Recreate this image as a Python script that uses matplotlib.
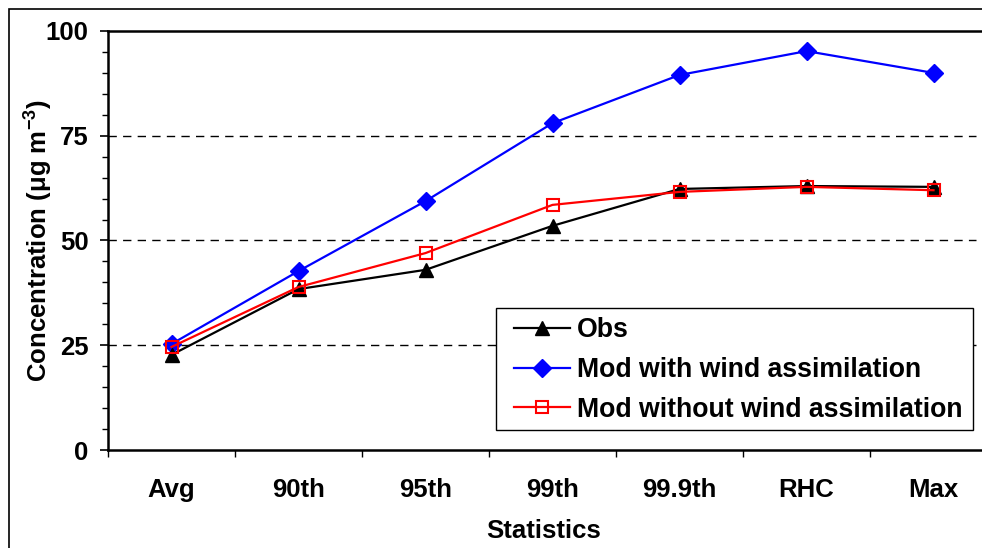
import matplotlib
matplotlib.use("Agg")
import matplotlib.pyplot as plt
from matplotlib.patches import Rectangle
import numpy as np

categories = ["Avg", "90th", "95th", "99th", "99.9th", "RHC", "Max"]
obs = [22.7, 38.4, 43.0, 53.5, 62.3, 63.0, 62.8]
mod_wind = [25.3, 42.7, 59.4, 78.0, 89.5, 95.2, 90.0]
mod_no_wind = [24.6, 38.9, 47.0, 58.5, 61.6, 62.8, 62.0]
y_ticks = [0, 25, 50, 75, 100]

plt.rcParams['font.family'] = ['Liberation Sans', 'DejaVu Sans']
plt.rcParams['font.weight'] = 'bold'
plt.rcParams['mathtext.fontset'] = 'custom'
plt.rcParams['mathtext.rm'] = 'Liberation Sans:bold'
plt.rcParams['mathtext.bf'] = 'Liberation Sans:bold'
plt.rcParams['mathtext.default'] = 'bf'

W, H = 982, 548
fig = plt.figure(figsize=(W / 100, H / 100), dpi=100)

# outer frame of the original picture (cropped on right/bottom)
fig.patches.append(Rectangle((9 / W, -0.1), 1.2, 1 - 9 / H + 0.1, transform=fig.transFigure,
                             fill=False, edgecolor='black', lw=1.2))

ax = fig.add_axes([108 / W, 1 - 450 / H, 889 / W, 419 / H])
x = np.arange(len(categories))

ax.plot(x, mod_wind, color='blue', lw=1.6, marker='D', ms=9, mec='blue', mfc='blue',
        label='Mod with wind assimilation', zorder=3)
ax.plot(x, obs, color='black', lw=1.6, marker='^', ms=10.5, mec='black', mfc='black',
        label='Obs', zorder=4)
ax.plot(x, mod_no_wind, color='red', lw=1.6, marker='s', ms=9, mec='red', mfc='none',
        mew=1.5, label='Mod without wind assimilation', zorder=5)

ax.set_xlim(-0.5, len(categories) - 0.5)
ax.set_ylim(0, 100)
ax.set_yticks(y_ticks)
ax.set_yticks(np.arange(0, 101, 5), minor=True)
ax.set_xticks(x)
ax.set_xticklabels(categories)
ax.set_xticks(np.arange(-0.5, len(categories), 1.0), minor=True)

for yv in y_ticks[1:-1]:
    ax.axhline(yv, xmax=0.976, color='black', lw=1.0, ls=(0, (6, 4.5)), zorder=1)

ax.tick_params(axis='y', which='major', direction='out', length=6, width=1.2,
               labelsize=18.5, pad=8)
ax.tick_params(axis='y', which='minor', direction='out', length=4.5, width=1.0)
ax.tick_params(axis='x', which='major', length=0, labelsize=18.5, pad=20)
ax.tick_params(axis='x', which='minor', direction='out', length=5, width=1.0)

for side in ['left', 'bottom', 'top']:
    ax.spines[side].set_linewidth(1.8)
ax.spines['right'].set_visible(False)

ax.set_ylabel('Concentration (μg m$^{-3}$)', fontsize=18.5, fontweight='bold')
ax.yaxis.set_label_coords(-0.06, 0.5)
ax.set_xlabel('Statistics', fontsize=18.5, fontweight='bold')
ax.xaxis.set_label_coords(0.49, -0.165)

# legend box drawn by hand so its size matches the original
box = Rectangle((496 / W, 1 - 430 / H), 477 / W, 122 / H, transform=fig.transFigure,
                facecolor='white', edgecolor='black', lw=1.0, clip_on=False, zorder=6)
ax.add_patch(box)

handles, labels = ax.get_legend_handles_labels()
order = [1, 0, 2]
leg = ax.legend([handles[i] for i in order], [labels[i] for i in order],
                loc='upper left', bbox_to_anchor=(514 / W, 1 - 317 / H),
                bbox_transform=fig.transFigure, borderaxespad=0, borderpad=0,
                fontsize=19.2, handlelength=2.1, handletextpad=0.26,
                labelspacing=0.52, frameon=False)
leg.set_zorder(7)

fig.savefig('out.png', dpi=100)
